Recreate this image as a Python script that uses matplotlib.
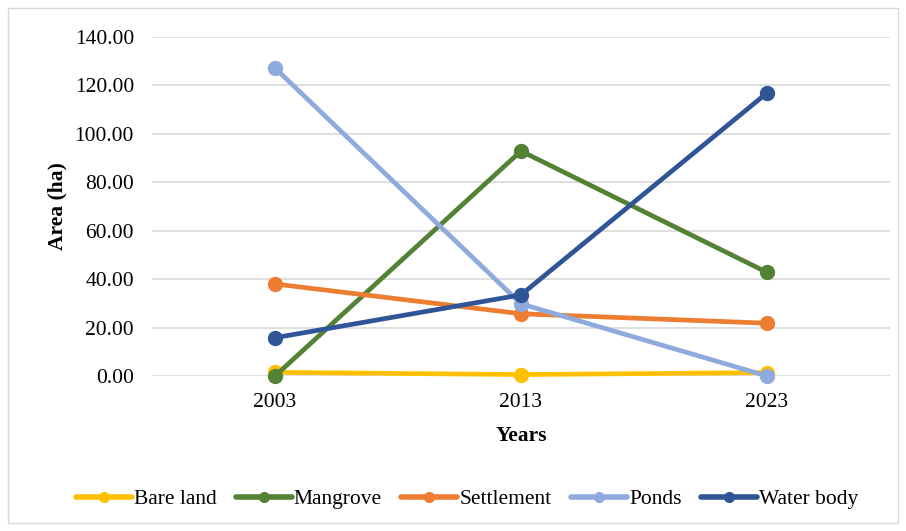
import matplotlib.pyplot as plt
from matplotlib.patches import Rectangle

years = ['2003', '2013', '2023']
bare_land = [1.5, 0.6, 1.4]
mangrove = [0.0, 92.9, 42.8]
settlement = [38.0, 25.7, 21.8]
ponds = [127.2, 29.8, 0.0]
water_body = [15.8, 33.5, 116.9]

series = [('Bare land', bare_land, '#FFC000'),
          ('Mangrove', mangrove, '#548235'),
          ('Settlement', settlement, '#ED7D31'),
          ('Ponds', ponds, '#8FAADC'),
          ('Water body', water_body, '#2F5597')]

plt.rcParams['font.family'] = ['Liberation Serif', 'DejaVu Serif']
plt.rcParams['font.size'] = 15.5

fig = plt.figure(figsize=(9.06, 5.31), dpi=100)
ax = fig.add_axes([152 / 906, 1 - 376 / 531, 738 / 906, 339 / 531])

x = range(len(years))
for name, vals, col in series:
    ax.plot(x, vals, color=col, lw=3.4, marker='o', ms=10, label=name,
            solid_capstyle='round', clip_on=False)

ax.set_xlim(-0.5, 2.5)
ax.set_ylim(0, 140)
ax.set_yticks(range(0, 141, 20))
ax.set_yticklabels(['%.2f' % v for v in range(0, 141, 20)])
ax.set_xticks(list(x))
ax.set_xticklabels(years)
ax.tick_params(length=0)
ax.tick_params(axis='y', pad=13)
ax.tick_params(axis='x', pad=12)
ax.grid(axis='y', color='#D9D9D9', lw=1.2)
ax.set_axisbelow(True)
for s in ax.spines.values():
    s.set_visible(False)

ax.set_ylabel('Area (ha)', fontweight='bold', labelpad=5)
ax.set_xlabel('Years', fontweight='bold', labelpad=10)

fig.legend(loc='center', bbox_to_anchor=(467 / 906, 1 - 499 / 531), ncol=5,
           frameon=False, handlelength=2.6, columnspacing=0.9, handletextpad=0.1,
           markerscale=0.7)
for h in fig.legends[0].get_lines():
    h.set_linewidth(4)

fig.patches.append(Rectangle((8 / 906, 8 / 531), 890 / 906, 515 / 531,
                             transform=fig.transFigure, fill=False,
                             edgecolor='#D9D9D9', lw=1))

fig.savefig('out.png', dpi=100)
